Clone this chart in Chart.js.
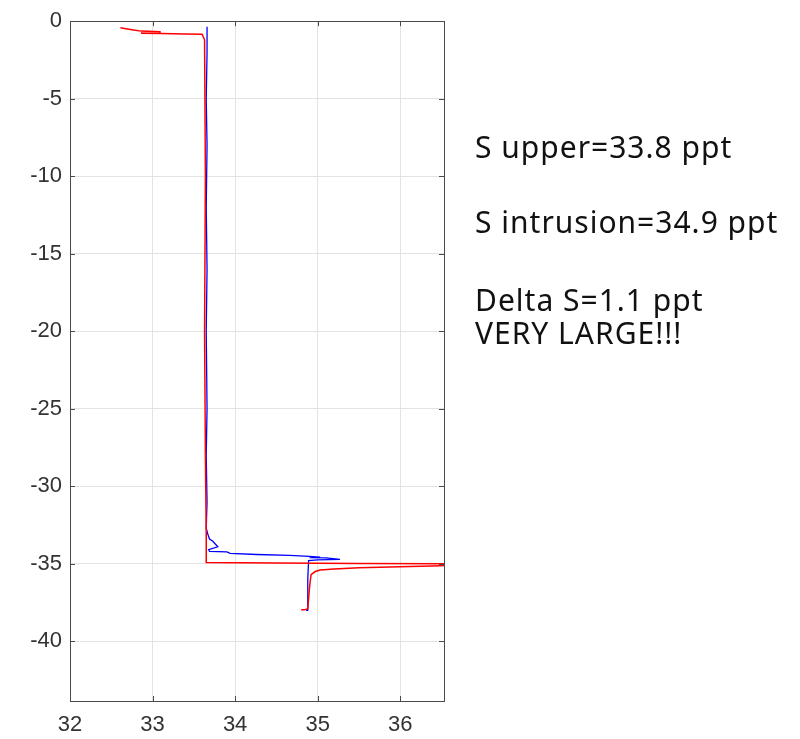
<!DOCTYPE html>
<html lang="en">
<head>
  <meta charset="UTF-8">
  <title>Salinity profile</title>
  <script src="https://cdn.jsdelivr.net/npm/chart.js"></script>
  <style>
    body { margin: 0; background: #fff; }
    #wrap { position: relative; width: 800px; height: 739px; }
    .note {
      position: absolute;
      left: 475px;
      font-family: "Noto Sans", Lato, sans-serif;
      font-size: 30px;
      letter-spacing: 1px;
      color: #111;
      white-space: nowrap;
      line-height: 1;
    }
  </style>
</head>
<body>
  <div id="wrap">
    <canvas id="profile" width="800" height="739"></canvas>
    <div class="note" style="top:132px">S upper=33.8 ppt</div>
    <div class="note" style="top:207px">S intrusion=34.9 ppt</div>
    <div class="note" style="top:285px">Delta S=1.1 ppt</div>
    <div class="note" style="top:318px">VERY LARGE!!!</div>
  </div>

  <script>
    // red profile (salinity, depth)
    const redS = [32.61, 32.75, 32.86, 33.09, 33.09, 32.86, 33.1, 33.4, 33.6, 33.63, 33.64, 33.63, 33.64, 33.65, 33.65,
                  34.5, 35.5, 36.5, 37.2, 36.5, 35.5, 35.2, 35.03, 34.97, 34.92, 34.91, 34.9, 34.88, 34.84, 34.8];
    const redZ = [-0.42, -0.55, -0.64, -0.68, -0.79, -0.78, -0.8, -0.82, -0.84, -1.2, -10, -20, -28, -33, -34.92,
                  -34.95, -34.98, -35.0, -35.05, -35.12, -35.26, -35.33, -35.4, -35.5, -35.7, -36.1, -36.6, -37.9, -37.97, -37.97];

    // blue profile (salinity, depth)
    const blueS = [33.66, 33.66, 33.65, 33.66, 33.65, 33.66, 33.65, 33.66, 33.65, 33.66, 33.65, 33.67, 33.69, 33.73, 33.79,
                   33.68, 33.69, 33.9, 33.94, 34.26, 34.66, 34.9, 35.03, 34.9, 35.1, 35.27, 35.0, 34.89, 34.88, 34.88, 34.86];
    const blueZ = [-0.35, -2, -5, -8, -12, -16, -20, -25, -28, -31, -32.7, -33.1, -33.4, -33.55, -33.9,
                   -34.08, -34.2, -34.23, -34.33, -34.4, -34.46, -34.52, -34.57, -34.6, -34.62, -34.72, -34.75, -34.8, -36, -38.0, -38.0];

    const xTicks = [32, 33, 34, 35, 36];
    const yTicks = [0, -5, -10, -15, -20, -25, -30, -35, -40];
    const xRange = [32, 36.53];
    const yRange = [-43.85, 0];

    const toPoints = (xs, ys) => xs.map((x, i) => ({ x: x, y: ys[i] }));

    // axes box + inward ticks on all four sides, like matlab
    const boxPlugin = {
      id: "box",
      afterDraw(chart) {
        const { ctx, chartArea: a, scales } = chart;
        ctx.save();
        ctx.strokeStyle = "#4a4a4a";
        ctx.lineWidth = 1;
        ctx.beginPath();
        xTicks.forEach(v => {
          const px = Math.round(scales.x.getPixelForValue(v)) + 0.5;
          ctx.moveTo(px, a.bottom); ctx.lineTo(px, a.bottom - 5);
          ctx.moveTo(px, a.top); ctx.lineTo(px, a.top + 5);
        });
        yTicks.forEach(v => {
          const py = Math.round(scales.y.getPixelForValue(v)) + 0.5;
          ctx.moveTo(a.left, py); ctx.lineTo(a.left + 5, py);
          ctx.moveTo(a.right, py); ctx.lineTo(a.right - 5, py);
        });
        ctx.stroke();
        ctx.strokeRect(Math.round(a.left) + 0.5, Math.round(a.top) + 0.5,
                       Math.round(a.right - a.left), Math.round(a.bottom - a.top));
        ctx.restore();
      }
    };

    const tickFont = { family: "'Liberation Sans', Arial, sans-serif", size: 22 };

    new Chart(document.getElementById("profile"), {
      type: "scatter",
      data: {
        datasets: [
          {
            data: toPoints(redS, redZ),
            showLine: true,
            borderColor: "#ff0000",
            borderWidth: 1.5,
            pointRadius: 0,
            tension: 0
          },
          {
            data: toPoints(blueS, blueZ),
            showLine: true,
            borderColor: "#0000ff",
            borderWidth: 1.3,
            pointRadius: 0,
            tension: 0
          }
        ]
      },
      options: {
        responsive: false,
        animation: false,
        layout: { padding: { left: 0, top: 17, right: 356, bottom: 0 } },
        plugins: { legend: { display: false }, tooltip: { enabled: false } },
        scales: {
          x: {
            type: "linear",
            min: xRange[0],
            max: xRange[1],
            afterBuildTicks: s => { s.ticks = xTicks.map(v => ({ value: v })); },
            afterFit: s => { s.height = 38; },
            grid: { color: "#e3e3e3", drawTicks: false },
            border: { display: false },
            ticks: { font: tickFont, color: "#333", padding: 11, maxRotation: 0 }
          },
          y: {
            type: "linear",
            min: yRange[0],
            max: yRange[1],
            afterBuildTicks: s => { s.ticks = yTicks.map(v => ({ value: v })); },
            afterFit: s => { s.width = 70; },
            grid: { color: "#e3e3e3", drawTicks: false },
            border: { display: false },
            ticks: { font: tickFont, color: "#333", padding: 8 }
          }
        }
      },
      plugins: [boxPlugin]
    });
  </script>
</body>
</html>
